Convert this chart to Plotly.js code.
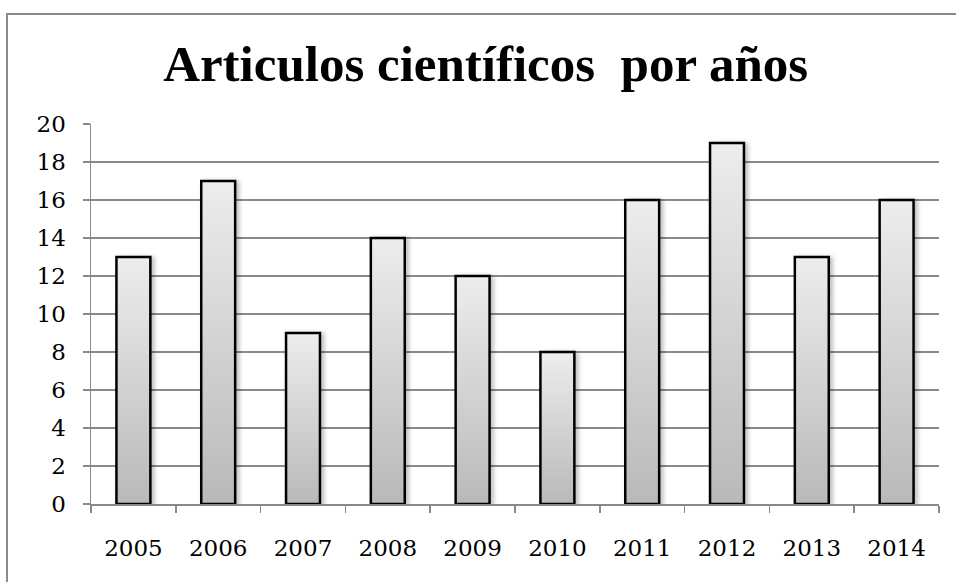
<!DOCTYPE html>
<html>
<head>
<meta charset="utf-8">
<script src="https://cdn.plot.ly/plotly-3.0.1.min.js"></script>
<style>
  html, body { margin: 0; padding: 0; background: #fff; overflow: hidden; }
  #wrap { position: relative; width: 956px; height: 582px; overflow: hidden; }
  #chart { width: 956px; height: 582px; }
  #frame { position: absolute; left: 6px; top: 13px; width: 1100px; height: 700px;
           border-left: 2px solid #8a8a8a; border-top: 2px solid #8a8a8a;
           box-sizing: border-box; pointer-events: none; }
</style>
</head>
<body>
<div id="wrap">
  <div id="chart"></div>
  <div id="frame"></div>
</div>
<script>
const years = ["2005", "2006", "2007", "2008", "2009", "2010", "2011", "2012", "2013", "2014"];
const articles = [13, 17, 9, 14, 12, 8, 16, 19, 13, 16];
const yTicks = [0, 2, 4, 6, 8, 10, 12, 14, 16, 18, 20];

const tickFont = { family: "DejaVu Serif", size: 23, color: "#000" };

const trace = {
  type: "bar",
  x: years,
  y: articles,
  marker: { color: "#d4d4d4", line: { color: "#000", width: 2.5 } },
  hoverinfo: "none"
};

const layout = {
  width: 956, height: 582,
  paper_bgcolor: "#fff", plot_bgcolor: "#fff",
  margin: { l: 91, r: 17, t: 124, b: 78 },
  showlegend: false,
  bargap: 0.6,
  title: {
    text: "<b>Articulos científicos  por años</b>",
    font: { family: "Liberation Serif", size: 51, color: "#000" },
    x: 0.508, xanchor: "center", xref: "container",
    y: 0.892, yanchor: "middle", yref: "container"
  },
  xaxis: {
    type: "category",
    tickfont: tickFont,
    showline: true, linecolor: "#8a8a8a", linewidth: 1.5,
    ticks: "outside", tickson: "boundaries", ticklen: 7, tickcolor: "#8a8a8a", tickwidth: 1.5,
    ticklabelstandoff: 23,
    showgrid: false, zeroline: false, fixedrange: true
  },
  yaxis: {
    range: [0, 20],
    tickmode: "array", tickvals: yTicks, ticktext: yTicks.map(String),
    tickfont: tickFont,
    showline: true, linecolor: "#8a8a8a", linewidth: 1.5,
    ticks: "outside", ticklen: 7, tickcolor: "#8a8a8a", tickwidth: 1.5,
    ticklabelstandoff: 12,
    showgrid: true, gridcolor: "#8a8a8a", gridwidth: 1.5,
    zeroline: false, fixedrange: true
  }
};

function applyGradient(gd) {
  const svg = gd.querySelector("svg.main-svg");
  if (!svg) return;
  const ns = "http://www.w3.org/2000/svg";
  let defs = svg.querySelector("defs");
  if (!defs) { defs = document.createElementNS(ns, "defs"); svg.insertBefore(defs, svg.firstChild); }
  if (!svg.querySelector("#barGrad")) {
    const g = document.createElementNS(ns, "linearGradient");
    g.setAttribute("id", "barGrad");
    g.setAttribute("x1", "0"); g.setAttribute("y1", "0");
    g.setAttribute("x2", "0"); g.setAttribute("y2", "1");
    const s1 = document.createElementNS(ns, "stop");
    s1.setAttribute("offset", "0"); s1.setAttribute("stop-color", "#ededed");
    const s2 = document.createElementNS(ns, "stop");
    s2.setAttribute("offset", "1"); s2.setAttribute("stop-color", "#b9b9b9");
    g.appendChild(s1); g.appendChild(s2);
    defs.appendChild(g);
    const f = document.createElementNS(ns, "filter");
    f.setAttribute("id", "barShadow");
    f.setAttribute("x", "-20%"); f.setAttribute("y", "-5%");
    f.setAttribute("width", "150%"); f.setAttribute("height", "110%");
    const ds = document.createElementNS(ns, "feDropShadow");
    ds.setAttribute("dx", "3"); ds.setAttribute("dy", "1");
    ds.setAttribute("stdDeviation", "2"); ds.setAttribute("flood-color", "#000");
    ds.setAttribute("flood-opacity", "0.25");
    f.appendChild(ds);
    defs.appendChild(f);
  }
  gd.querySelectorAll(".barlayer .point path").forEach(p => {
    p.style.fill = "url(#barGrad)";
    p.style.fillOpacity = 1;
    p.setAttribute("filter", "url(#barShadow)");
  });
}

const gd = document.getElementById("chart");
Plotly.newPlot(gd, [trace], layout, { staticPlot: true, displayModeBar: false }).then(() => {
  applyGradient(gd);
  gd.on && gd.on("plotly_afterplot", () => applyGradient(gd));
});
</script>
</body>
</html>
